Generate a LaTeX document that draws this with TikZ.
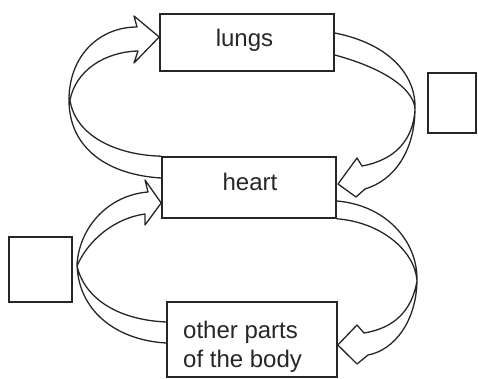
\documentclass[tikz,border=0pt]{standalone}
\usepackage{fontspec}
\setmainfont{Liberation Sans}
\begin{document}
\begin{tikzpicture}[x=1pt,y=-1pt,
  box/.style={draw=black!85, line width=1.6pt, inner sep=0pt},
  lbl/.style={font=\fontsize{24}{28}\selectfont, inner sep=0pt, text=black!85},
  band/.style={draw=black!85, line width=1.3pt, line join=round, line cap=round}]
\useasboundingbox (0,0) rectangle (478,379);
% boxes
\node[box, minimum width=174pt, minimum height=57pt] (lungs) at (247,42.5) {};
\node[box, minimum width=174pt, minimum height=61pt] (heart) at (249,187.5) {};
\node[box, minimum width=170pt, minimum height=75pt] (other) at (252,339.5) {};
\node[box, minimum width=48pt, minimum height=60pt] (boxR) at (452,103) {};
\node[box, minimum width=63pt, minimum height=65pt] (boxL) at (40.5,269.5) {};
% labels
\node[lbl, anchor=base] (tl) at (244.5,47) {lungs};
\node[lbl, anchor=base] (th) at (250,190) {heart};
\node[lbl, anchor=base west] (to1) at (183,338) {other parts};
\node[lbl, anchor=base west] (to2) at (183,367) {of the body};
% arrow end points
\coordinate (a1t) at (heart.west |- 0,178);
\coordinate (a2t) at (lungs.east |- 0,33);
\coordinate (a3t) at (other.west |- 0,343);
\coordinate (a4t) at (heart.east |- 0,201);
% heart -> lungs (left)
\draw[band] (a1t) .. controls (110,175) and (69,150) .. (69,100)
  .. controls (69,55) and (100,27) .. (137,27) -- (134,16) -- (lungs.west |- 0,37)
  -- (134,63) -- (138,51) .. controls (105,52) and (76,70) .. (70,100)
  .. controls (75,135) and (115,155) .. (heart.north west);
% lungs -> heart (right)
\draw[band] (a2t) .. controls (395,45) and (416,80) .. (415,108)
  .. controls (415,150) and (395,180) .. (365,189) -- (356,197) -- (338,184)
  -- (357,158) -- (362,166) .. controls (395,160) and (413,140) .. (415,110)
  .. controls (415,92) and (390,70) .. (lungs.east |- 0,55);
% other -> heart (left)
\draw[band] (a3t) .. controls (115,340) and (78,310) .. (77,264)
  .. controls (80,225) and (110,195) .. (148,192) -- (145,180) -- (heart.west |- 0,203)
  -- (145,225) -- (145,214) .. controls (115,218) and (88,240) .. (77,266)
  .. controls (85,300) and (120,320) .. (other.west |- 0,322);
% heart -> other (right)
\draw[band] (a4t) .. controls (385,205) and (417,240) .. (417,279)
  .. controls (417,320) and (395,350) .. (368,355) -- (357,364) -- (other.east |- 0,345)
  -- (357,325) -- (364,333) .. controls (395,328) and (412,310) .. (417,281)
  .. controls (415,250) and (380,222) .. (heart.south east);
\end{tikzpicture}
\end{document}
